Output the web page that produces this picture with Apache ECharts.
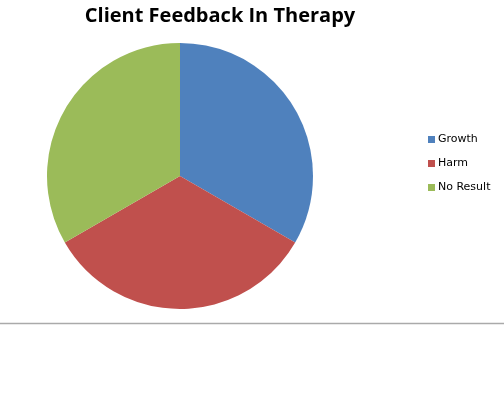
<!DOCTYPE html>
<html><head><meta charset="utf-8">
<script src="https://cdn.jsdelivr.net/npm/echarts@6/dist/echarts.min.js"></script>
<style>html,body{margin:0;padding:0;background:#fff}#c{width:504px;height:401px}</style>
</head><body><div id="c"></div>
<script>
const categories = ['Growth', 'Harm', 'No Result'];
const values = [1, 1, 1];
const colors = ['#4F81BD', '#C0504D', '#9BBB59'];
const chart = echarts.init(document.getElementById('c'), null, {renderer: 'canvas'});
chart.setOption({
  animation: false,
  backgroundColor: '#fff',
  title: {
    text: 'Client Feedback In Therapy',
    left: 215, top: 1, textAlign: 'center',
    textStyle: {fontFamily: 'Open Sans', fontWeight: 'bold', fontSize: 20, color: '#000'}
  },
  legend: {
    orient: 'vertical', left: 428, top: 134, padding: 0,
    itemWidth: 7, itemHeight: 7, itemGap: 13, icon: 'rect',
    textStyle: {fontFamily: 'DejaVu Sans', fontSize: 11, color: '#000', padding: [0,0,0,-2]},
    data: categories
  },
  graphic: [{
    type: 'line', shape: {x1: 0, y1: 323.5, x2: 504, y2: 323.5},
    style: {stroke: '#aaaaaa', lineWidth: 1.5}
  }],
  series: [{
    type: 'pie', center: [180, 176], radius: 133, startAngle: 90, clockwise: true,
    label: {show: false}, labelLine: {show: false},
    itemStyle: {borderWidth: 0},
    emphasis: {disabled: true},
    data: categories.map((c, i) => ({name: c, value: values[i], itemStyle: {color: colors[i]}}))
  }]
});
</script></body></html>
